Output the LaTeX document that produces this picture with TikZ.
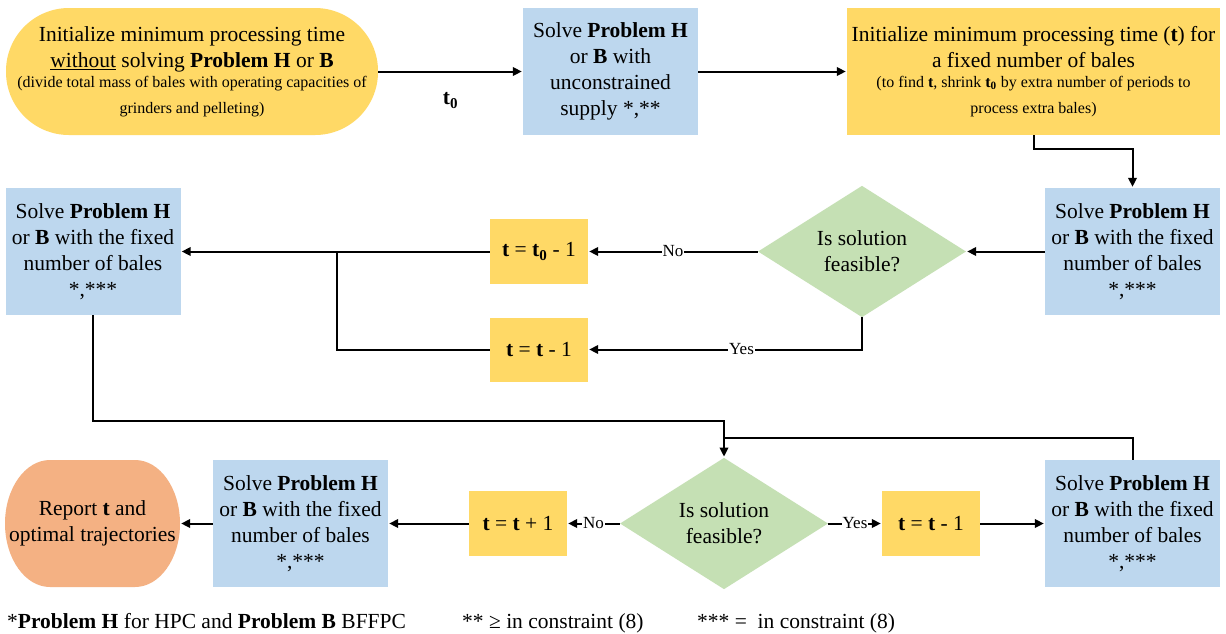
\documentclass[tikz,border=0pt]{standalone}
\usepackage{fontspec}
\setmainfont{Liberation Serif}
\usetikzlibrary{arrows.meta,shapes.geometric}
\definecolor{ylw}{HTML}{FFD966}
\definecolor{blu}{HTML}{BDD7EE}
\definecolor{grn}{HTML}{C5E0B4}
\definecolor{org}{HTML}{F4B183}
\newcommand\smalltxt{\fontsize{16}{20}\selectfont}
\newcommand\bt{\textbf{t}}
\newcommand\btz{\textbf{t\textsubscript{0}}}

\begin{document}
\begin{tikzpicture}[x=1pt,y=-1pt,
  base/.style={align=center,inner sep=0pt,font=\fontsize{21.5}{26}\selectfont},
  yellowbox/.style={base,rectangle,fill=ylw},
  bluebox/.style={base,rectangle,fill=blu,minimum width=175pt,minimum height=127pt},
  smallbox/.style={base,rectangle,fill=ylw,minimum width=98pt,minimum height=65pt},
  decision/.style={base,diamond,fill=grn,minimum width=208pt,minimum height=127pt},
  flow/.style={line width=2pt,-{Triangle[length=9pt,width=8.5pt]},shorten >=1pt},
  link/.style={line width=2pt},
  answer/.style={fill=white,inner sep=1pt,font=\fontsize{17}{20}\selectfont}]

\fill[white] (0,0) rectangle (1226,633);
\useasboundingbox (0,0) rectangle (1226,633);

% --- top row ---
\node[yellowbox,rounded corners=63pt,minimum width=372pt,minimum height=127pt] (init) at (192,71.5)
  {Initialize minimum processing time\\
   \underline{without} solving \textbf{Problem H} or \textbf{B}\\[-6pt]
   {\smalltxt (divide total mass of bales with operating capacities of}\\
   {\smalltxt grinders and pelleting)}};
\node[bluebox] (solve0) at (610.5,71.5)
  {Solve \textbf{Problem H}\\ or \textbf{B} with\\ unconstrained\\ supply *,**};
\node[yellowbox,minimum width=373pt,minimum height=127pt] (initt) at (1033.5,71.5)
  {Initialize minimum processing time (\bt) for\\
   a fixed number of bales\\[-6pt]
   {\smalltxt (to find \bt, shrink \btz{} by extra number of periods to}\\
   {\smalltxt process extra bales)}};

% --- middle row ---
\node[bluebox] (solveR) at (1132.5,251.5)
  {Solve \textbf{Problem H}\\ or \textbf{B} with the fixed\\ number of bales\\ *,***};
\node[decision] (feas1) at (862,251.5) {Is solution\\ feasible?};
\node[smallbox] (dec0) at (539,251.5) {\bt{} = \btz{} - 1};
\node[smallbox,minimum height=64pt] (dec1) at (539,349.5) {\bt{} = \bt{} - 1};
\node[bluebox] (solveL) at (93,251.5)
  {Solve \textbf{Problem H}\\ or \textbf{B} with the fixed\\ number of bales\\ *,***};
\coordinate (merge) at (337,251.5);

% --- bottom row ---
\coordinate (down) at (724,421);
\coordinate (back) at (724,438);
\node[decision] (feas2) at (724,523.5) {Is solution\\ feasible?};
\node[smallbox] (dec2) at (931,523.5) {\bt{} = \bt{} - 1};
\node[bluebox] (solveB) at (1132.5,523.5)
  {Solve \textbf{Problem H}\\ or \textbf{B} with the fixed\\ number of bales\\ *,***};
\node[smallbox] (inc) at (518,523.5) {\bt{} = \bt{} + 1};
\node[bluebox] (solveF) at (300.5,523.5)
  {Solve \textbf{Problem H}\\ or \textbf{B} with the fixed\\ number of bales\\ *,***};
\fill[org] (50,460) -- (135,460)
  arc[start angle=-90,end angle=0,x radius=45,y radius=63.5]
  arc[start angle=0,end angle=90,x radius=45,y radius=63.5] -- (50,587)
  arc[start angle=90,end angle=180,x radius=45,y radius=63.5]
  arc[start angle=180,end angle=270,x radius=45,y radius=63.5] -- cycle;
\node[base,minimum width=175pt,minimum height=127pt] (report) at (92.5,523.5)
  {Report \bt{} and\\ optimal trajectories};

% --- connectors ---
\draw[flow] (init) -- (solve0) node[midway,yshift=-29pt,base] (tlabel) {\btz};
\draw[flow] (solve0) -- (initt);
\draw[flow] (initt.south) -- ++(0,14) -| (solveR.north);
\draw[flow] (solveR) -- (feas1);
\draw[flow] (feas1) -- node[answer]{No} (dec0);
\draw[flow] (feas1.south) |- node[answer,pos=0.72]{Yes} (dec1.east);
\draw[flow] (dec0) -- (solveL);
\draw[link] (dec1.west) -| (merge);
\draw[flow] (solveL.south) |- (down) -- (feas2.north);
\draw[link] (solveB.north) |- (back);
\draw[flow] (feas2) -- node[answer]{Yes} (dec2);
\draw[flow] (dec2) -- (solveB);
\draw[flow] (feas2) -- node[answer]{No} (inc);
\draw[flow] (inc) -- (solveF);
\draw[flow] (solveF) -- (report);

% --- footnotes ---
\node[base,anchor=base west] (note1) at (7,628) {*\textbf{Problem H} for HPC and \textbf{Problem B} BFFPC};
\node[base,anchor=base west] (note2) at (462,628) {** ≥ in constraint (8)};
\node[base,anchor=base west] (note3) at (697,628) {*** =\ \ in constraint (8)};
\end{tikzpicture}
\end{document}
